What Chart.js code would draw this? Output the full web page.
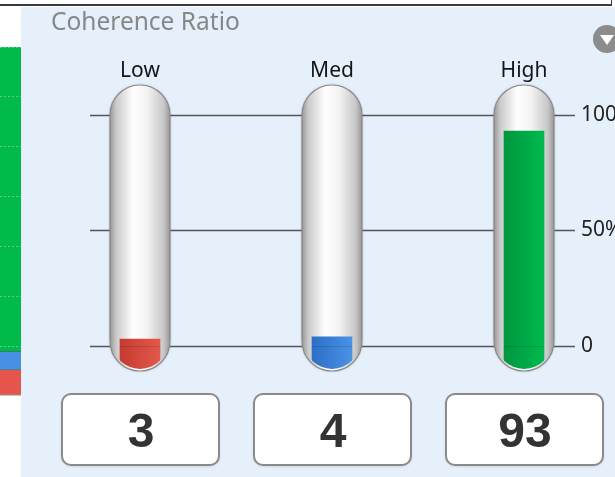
<!DOCTYPE html>
<html>
<head>
<meta charset="utf-8">
<script src="https://cdn.jsdelivr.net/npm/chart.js@4.4.1/dist/chart.umd.min.js"></script>
<style>
html, body { margin: 0; padding: 0; background: #fff; width: 615px; height: 477px; overflow: hidden; position: relative; }
#topline { position: absolute; left: 0; top: 0; width: 611px; height: 4px; border-bottom: 2px solid #3a3a3a; border-right: 1px solid #3a3a3a; }
#stripbox { position: absolute; left: -20px; top: 0; width: 41px; height: 477px; }
#panel { position: absolute; left: 21px; top: 7px; width: 594px; height: 470px; background: #e6f0fa; overflow: hidden; }
#gaugebox { position: absolute; left: 0; top: 0; width: 640px; height: 470px; }
</style>
</head>
<body>
<div id="topline"></div>
<div id="stripbox"><canvas id="strip"></canvas></div>
<div id="panel">
  <div id="gaugebox"><canvas id="gauge"></canvas></div>
</div>
<script>
// coherence ratio gauge
var categories = ['Low', 'Med', 'High'];
var coherence = [3, 4, 93];
var tickValues = [0, 50, 100];
var tickLabels = ['0', '50%', '100%'];

// fragment of the neighbouring stacked bar on the left
var stripCats = [''];
var stripRed = [0.52];
var stripBlue = [0.37];
var stripGreen = [6.11];

var fillDark = ['#c63b31', '#2d6fc6', '#009640'];
var fillLight = ['#e4584b', '#4a92e6', '#00ba4c'];

var yMin = -10.8, yMax = 112.9;
var tubeR = 30;

function capsule(c, x, top, bottom, r) {
    c.moveTo(x - r, top + r);
    c.arc(x, top + r, r, Math.PI, 0);
    c.lineTo(x + r, bottom - r);
    c.arc(x, bottom - r, r, 0, Math.PI);
    c.closePath();
}

var gaugePlugin = {
    id: 'gauge',
    beforeDatasetsDraw: function(chart) {
        var c = chart.ctx, xs = chart.scales.x, ys = chart.scales.y, area = chart.chartArea;
        var x0 = xs.getPixelForValue(0), x2 = xs.getPixelForValue(categories.length - 1);

        // title + menu button
        c.save();
        c.fillStyle = '#878787';
        c.font = '24.5px "Noto Sans"';
        c.textBaseline = 'alphabetic';
        c.fillText('Coherence Ratio', 30, 23);
        c.fillStyle = '#8c8c8c';
        c.beginPath();
        c.arc(586, 32, 14, 0, Math.PI * 2);
        c.fill();
        c.fillStyle = '#fff';
        c.beginPath();
        c.moveTo(579, 28); c.lineTo(593, 28); c.lineTo(586, 38);
        c.closePath();
        c.fill();

        // gridlines + tick labels
        c.strokeStyle = '#555';
        c.lineWidth = 1.5;
        c.fillStyle = '#222';
        c.font = '21px "Noto Sans"';
        c.textBaseline = 'middle';
        tickValues.forEach(function(v, i) {
            var y = Math.round(ys.getPixelForValue(v)) + 0.5;
            c.beginPath();
            c.moveTo(x0 - 50, y);
            c.lineTo(x2 + 51, y);
            c.stroke();
            c.fillText(tickLabels[i], x2 + 57, y);
        });

        // glass tubes
        categories.forEach(function(cat, i) {
            var x = xs.getPixelForValue(i);
            var g = c.createLinearGradient(x - tubeR, 0, x + tubeR, 0);
            g.addColorStop(0, '#979797');
            g.addColorStop(0.1, '#c8c8c8');
            g.addColorStop(0.38, '#ffffff');
            g.addColorStop(0.62, '#f3f3f3');
            g.addColorStop(0.9, '#c6c6c6');
            g.addColorStop(1, '#979797');
            c.save();
            c.shadowColor = 'rgba(0,0,0,0.25)';
            c.shadowBlur = 3;
            c.beginPath();
            capsule(c, x, area.top, area.bottom, tubeR);
            c.fillStyle = g;
            c.fill();
            c.restore();
        });
        c.restore();

        // clip fills to the inside of the tubes
        c.save();
        c.beginPath();
        categories.forEach(function(cat, i) {
            capsule(c, xs.getPixelForValue(i), area.top + 2, area.bottom - 2, tubeR - 2);
        });
        c.clip();
    },
    afterDatasetsDraw: function(chart) {
        var c = chart.ctx, xs = chart.scales.x, ys = chart.scales.y, area = chart.chartArea;
        c.restore();
        c.save();
        var yZero = Math.round(ys.getPixelForValue(0)) + 0.5;
        categories.forEach(function(cat, i) {
            var x = xs.getPixelForValue(i);
            // faint line at the zero level inside the fill
            c.strokeStyle = 'rgba(0,0,0,0.12)';
            c.lineWidth = 1;
            c.beginPath();
            c.moveTo(x - 20, yZero); c.lineTo(x + 20, yZero);
            c.stroke();
            // tube rim
            c.strokeStyle = '#8a8a8a';
            c.lineWidth = 1.2;
            c.beginPath();
            capsule(c, x, area.top, area.bottom, tubeR);
            c.stroke();
            // category label
            c.fillStyle = '#151515';
            c.font = '21px "Noto Sans"';
            c.textAlign = 'center';
            c.textBaseline = 'alphabetic';
            c.fillText(cat, x, 70);
            // value box
            c.save();
            c.shadowColor = 'rgba(0,0,0,0.2)';
            c.shadowBlur = 3;
            c.shadowOffsetY = 1;
            c.fillStyle = '#fff';
            c.beginPath();
            c.roundRect(x - 78, 387, 157, 71, 9);
            c.fill();
            c.restore();
            c.strokeStyle = '#8a8a8a';
            c.lineWidth = 2;
            c.beginPath();
            c.roundRect(x - 78, 387, 157, 71, 9);
            c.stroke();
            c.fillStyle = '#333';
            c.font = 'bold 48px "Liberation Sans"';
            c.textBaseline = 'alphabetic';
            c.fillText(String(coherence[i]), x + 1, 440);
        });
        c.restore();
    }
};

new Chart(document.getElementById('gauge'), {
    type: 'bar',
    data: {
        labels: categories,
        datasets: [{
            data: coherence,
            base: yMin,
            barThickness: 40,
            borderWidth: 0,
            backgroundColor: function(ctx) {
                var i = ctx.dataIndex || 0;
                var xs = ctx.chart.scales.x;
                var x = xs ? xs.getPixelForValue(i) : NaN;
                if (!isFinite(x)) return fillLight[i];
                var g = ctx.chart.ctx.createLinearGradient(x - 20, 0, x + 20, 0);
                g.addColorStop(0, fillDark[i]);
                g.addColorStop(1, fillLight[i]);
                return g;
            }
        }]
    },
    options: {
        responsive: true,
        maintainAspectRatio: false,
        animation: false,
        layout: { padding: { top: 78, bottom: 106, left: 23, right: 41 } },
        plugins: { legend: { display: false }, tooltip: { enabled: false } },
        scales: {
            x: { display: false },
            y: { display: false, min: yMin, max: yMax }
        }
    },
    plugins: [gaugePlugin]
});

new Chart(document.getElementById('strip'), {
    type: 'bar',
    data: {
        labels: stripCats,
        datasets: [
            { data: stripRed, backgroundColor: '#e5554b', borderColor: '#8f9a8a', borderWidth: { bottom: 1 }, borderSkipped: false },
            { data: stripBlue, backgroundColor: '#4a90e2', borderColor: '#2f7a55', borderWidth: { bottom: 1 }, borderSkipped: false },
            { data: stripGreen, backgroundColor: '#00bb4a', borderColor: '#2f7a55', borderWidth: { bottom: 1 }, borderSkipped: false }
        ]
    },
    options: {
        responsive: true,
        maintainAspectRatio: false,
        animation: false,
        layout: { padding: { top: 47, bottom: 81 } },
        plugins: { legend: { display: false }, tooltip: { enabled: false } },
        datasets: { bar: { barPercentage: 1, categoryPercentage: 1 } },
        scales: {
            x: { display: false, stacked: true },
            y: {
                stacked: true, min: 0, max: 7,
                ticks: { display: false, stepSize: 1 },
                border: { display: false, dash: [2, 2] },
                grid: { drawTicks: false, z: 1, color: 'rgba(255,255,255,0.35)', lineWidth: 1 }
            }
        }
    }
});
</script>
</body>
</html>
